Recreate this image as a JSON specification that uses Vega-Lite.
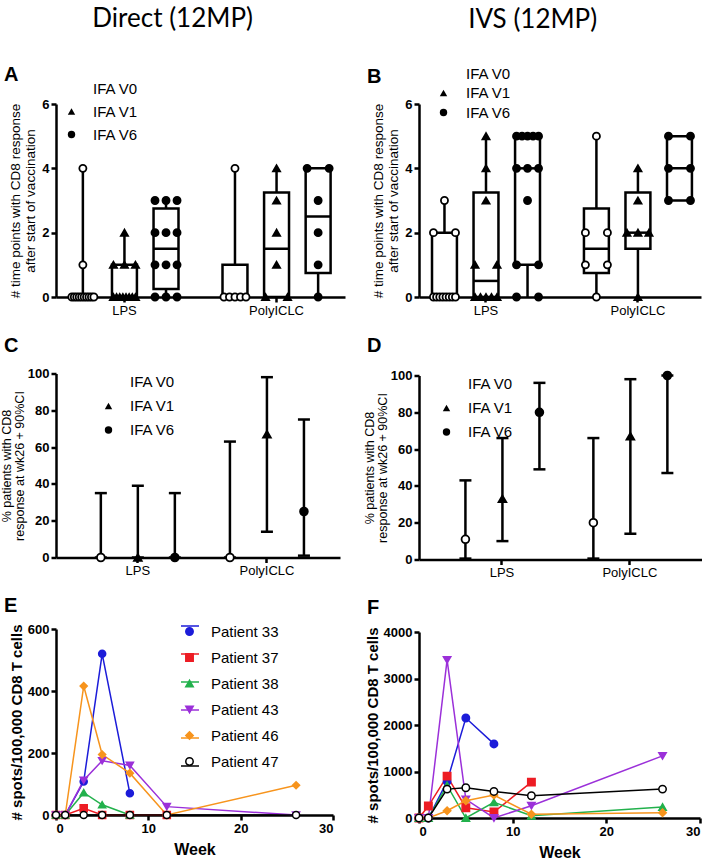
{
"$schema": "https://vega.github.io/schema/vega-lite/v6.json",
"padding": {"left": 0, "top": 6, "right": 0, "bottom": 0},
"background": "white",
"config": {
  "font": "Liberation Sans",
  "view": {"stroke": null},
  "axis": {"domain": true, "ticks": true, "domainColor": "black", "domainWidth": 2.5, "domainOpacity": 1, "tickColor": "black", "tickWidth": 2.5, "tickOpacity": 1, "tickSize": 5, "labelPadding": 2, "labelColor": "black", "titleColor": "black", "grid": false, "labelFont": "Liberation Sans", "titleFont": "Liberation Sans", "labelFontSize": 13, "titleFontWeight": "normal", "titleFontSize": 13},
  "axisX": {"domainColor": "black", "domainWidth": 2.5, "tickColor": "black", "tickWidth": 2.5},
  "axisY": {"domainColor": "black", "domainWidth": 2.5, "tickColor": "black", "tickWidth": 2.5},
  "title": {"anchor": "start", "frame": "group", "fontSize": 20, "font": "Liberation Sans", "fontWeight": "bold", "color": "black", "offset": 6, "dx": -52},
  "legend": {"labelFont": "Liberation Sans", "labelColor": "black"}
},
"resolve": {"scale": {"shape": "independent", "fill": "independent", "stroke": "independent", "color": "independent"}},
"datasets": {
  "box": [
    {"p":"A","g":"LPS","t":"IFA V0","min":0,"q1":0,"med":0,"q3":0,"max":4},
    {"p":"A","g":"LPS","t":"IFA V1","min":0,"q1":0,"med":0,"q3":1,"max":2},
    {"p":"A","g":"LPS","t":"IFA V6","min":0,"q1":0.25,"med":1.5,"q3":2.75,"max":3},
    {"p":"A","g":"PolyICLC","t":"IFA V0","min":0,"q1":0,"med":0,"q3":1,"max":4},
    {"p":"A","g":"PolyICLC","t":"IFA V1","min":0,"q1":0,"med":1.5,"q3":3.25,"max":4},
    {"p":"A","g":"PolyICLC","t":"IFA V6","min":0,"q1":0.75,"med":2.5,"q3":4,"max":4},
    {"p":"B","g":"LPS","t":"IFA V0","min":0,"q1":0,"med":0,"q3":2,"max":3},
    {"p":"B","g":"LPS","t":"IFA V1","min":0,"q1":0,"med":0.5,"q3":3.25,"max":5},
    {"p":"B","g":"LPS","t":"IFA V6","min":0,"q1":1,"med":4,"q3":5,"max":5},
    {"p":"B","g":"PolyICLC","t":"IFA V0","min":0,"q1":0.75,"med":1.5,"q3":2.75,"max":5},
    {"p":"B","g":"PolyICLC","t":"IFA V1","min":0,"q1":1.5,"med":2,"q3":3.25,"max":4},
    {"p":"B","g":"PolyICLC","t":"IFA V6","min":3,"q1":3,"med":4,"q3":5,"max":5}
  ],
  "pts": [
    {"p":"A","g":"LPS","t":"IFA V0","v":0},{"p":"A","g":"LPS","t":"IFA V0","v":0},{"p":"A","g":"LPS","t":"IFA V0","v":0},{"p":"A","g":"LPS","t":"IFA V0","v":0},{"p":"A","g":"LPS","t":"IFA V0","v":0},
    {"p":"A","g":"LPS","t":"IFA V0","v":0},{"p":"A","g":"LPS","t":"IFA V0","v":0},{"p":"A","g":"LPS","t":"IFA V0","v":0},{"p":"A","g":"LPS","t":"IFA V0","v":0},{"p":"A","g":"LPS","t":"IFA V0","v":0},
    {"p":"A","g":"LPS","t":"IFA V0","v":1},{"p":"A","g":"LPS","t":"IFA V0","v":4},
    {"p":"A","g":"LPS","t":"IFA V1","v":0},{"p":"A","g":"LPS","t":"IFA V1","v":0},{"p":"A","g":"LPS","t":"IFA V1","v":0},{"p":"A","g":"LPS","t":"IFA V1","v":0},
    {"p":"A","g":"LPS","t":"IFA V1","v":0},{"p":"A","g":"LPS","t":"IFA V1","v":0},{"p":"A","g":"LPS","t":"IFA V1","v":0},{"p":"A","g":"LPS","t":"IFA V1","v":0},
    {"p":"A","g":"LPS","t":"IFA V1","v":1},{"p":"A","g":"LPS","t":"IFA V1","v":1},{"p":"A","g":"LPS","t":"IFA V1","v":1},{"p":"A","g":"LPS","t":"IFA V1","v":2},
    {"p":"A","g":"LPS","t":"IFA V6","v":0},{"p":"A","g":"LPS","t":"IFA V6","v":0},{"p":"A","g":"LPS","t":"IFA V6","v":0},
    {"p":"A","g":"LPS","t":"IFA V6","v":1},{"p":"A","g":"LPS","t":"IFA V6","v":1},{"p":"A","g":"LPS","t":"IFA V6","v":1},
    {"p":"A","g":"LPS","t":"IFA V6","v":2},{"p":"A","g":"LPS","t":"IFA V6","v":2},{"p":"A","g":"LPS","t":"IFA V6","v":2},
    {"p":"A","g":"LPS","t":"IFA V6","v":3},{"p":"A","g":"LPS","t":"IFA V6","v":3},{"p":"A","g":"LPS","t":"IFA V6","v":3},
    {"p":"A","g":"PolyICLC","t":"IFA V0","v":0},{"p":"A","g":"PolyICLC","t":"IFA V0","v":0},{"p":"A","g":"PolyICLC","t":"IFA V0","v":0},{"p":"A","g":"PolyICLC","t":"IFA V0","v":0},{"p":"A","g":"PolyICLC","t":"IFA V0","v":0},{"p":"A","g":"PolyICLC","t":"IFA V0","v":4},
    {"p":"A","g":"PolyICLC","t":"IFA V1","v":0},{"p":"A","g":"PolyICLC","t":"IFA V1","v":0},{"p":"A","g":"PolyICLC","t":"IFA V1","v":1},{"p":"A","g":"PolyICLC","t":"IFA V1","v":2},{"p":"A","g":"PolyICLC","t":"IFA V1","v":3},{"p":"A","g":"PolyICLC","t":"IFA V1","v":4},
    {"p":"A","g":"PolyICLC","t":"IFA V6","v":0},{"p":"A","g":"PolyICLC","t":"IFA V6","v":1},{"p":"A","g":"PolyICLC","t":"IFA V6","v":2},{"p":"A","g":"PolyICLC","t":"IFA V6","v":3},{"p":"A","g":"PolyICLC","t":"IFA V6","v":4},{"p":"A","g":"PolyICLC","t":"IFA V6","v":4},
    {"p":"B","g":"LPS","t":"IFA V0","v":0},{"p":"B","g":"LPS","t":"IFA V0","v":0},{"p":"B","g":"LPS","t":"IFA V0","v":0},{"p":"B","g":"LPS","t":"IFA V0","v":0},
    {"p":"B","g":"LPS","t":"IFA V0","v":0},{"p":"B","g":"LPS","t":"IFA V0","v":0},{"p":"B","g":"LPS","t":"IFA V0","v":0},{"p":"B","g":"LPS","t":"IFA V0","v":0},
    {"p":"B","g":"LPS","t":"IFA V0","v":2},{"p":"B","g":"LPS","t":"IFA V0","v":2},{"p":"B","g":"LPS","t":"IFA V0","v":3},
    {"p":"B","g":"LPS","t":"IFA V1","v":0},{"p":"B","g":"LPS","t":"IFA V1","v":0},{"p":"B","g":"LPS","t":"IFA V1","v":0},{"p":"B","g":"LPS","t":"IFA V1","v":0},{"p":"B","g":"LPS","t":"IFA V1","v":0},
    {"p":"B","g":"LPS","t":"IFA V1","v":1},{"p":"B","g":"LPS","t":"IFA V1","v":1},{"p":"B","g":"LPS","t":"IFA V1","v":3},{"p":"B","g":"LPS","t":"IFA V1","v":4},{"p":"B","g":"LPS","t":"IFA V1","v":5},
    {"p":"B","g":"LPS","t":"IFA V6","v":0},{"p":"B","g":"LPS","t":"IFA V6","v":0},{"p":"B","g":"LPS","t":"IFA V6","v":1},{"p":"B","g":"LPS","t":"IFA V6","v":1},{"p":"B","g":"LPS","t":"IFA V6","v":3},
    {"p":"B","g":"LPS","t":"IFA V6","v":4},{"p":"B","g":"LPS","t":"IFA V6","v":4},{"p":"B","g":"LPS","t":"IFA V6","v":4},
    {"p":"B","g":"LPS","t":"IFA V6","v":5},{"p":"B","g":"LPS","t":"IFA V6","v":5},{"p":"B","g":"LPS","t":"IFA V6","v":5},{"p":"B","g":"LPS","t":"IFA V6","v":5},{"p":"B","g":"LPS","t":"IFA V6","v":5},
    {"p":"B","g":"PolyICLC","t":"IFA V0","v":0},{"p":"B","g":"PolyICLC","t":"IFA V0","v":1},{"p":"B","g":"PolyICLC","t":"IFA V0","v":1},{"p":"B","g":"PolyICLC","t":"IFA V0","v":2},{"p":"B","g":"PolyICLC","t":"IFA V0","v":2},{"p":"B","g":"PolyICLC","t":"IFA V0","v":5},
    {"p":"B","g":"PolyICLC","t":"IFA V1","v":0},{"p":"B","g":"PolyICLC","t":"IFA V1","v":2},{"p":"B","g":"PolyICLC","t":"IFA V1","v":2},{"p":"B","g":"PolyICLC","t":"IFA V1","v":2},{"p":"B","g":"PolyICLC","t":"IFA V1","v":3},{"p":"B","g":"PolyICLC","t":"IFA V1","v":4},
    {"p":"B","g":"PolyICLC","t":"IFA V6","v":3},{"p":"B","g":"PolyICLC","t":"IFA V6","v":3},{"p":"B","g":"PolyICLC","t":"IFA V6","v":4},{"p":"B","g":"PolyICLC","t":"IFA V6","v":4},{"p":"B","g":"PolyICLC","t":"IFA V6","v":5},{"p":"B","g":"PolyICLC","t":"IFA V6","v":5}
  ],
  "ci": [
    {"p":"C","g":"LPS","t":"IFA V0","pct":0,"lo":0,"hi":35},
    {"p":"C","g":"LPS","t":"IFA V1","pct":0,"lo":0,"hi":39},
    {"p":"C","g":"LPS","t":"IFA V6","pct":0,"lo":0,"hi":35},
    {"p":"C","g":"PolyICLC","t":"IFA V0","pct":0,"lo":0,"hi":63},
    {"p":"C","g":"PolyICLC","t":"IFA V1","pct":67,"lo":14,"hi":98},
    {"p":"C","g":"PolyICLC","t":"IFA V6","pct":25,"lo":1,"hi":75},
    {"p":"D","g":"LPS","t":"IFA V0","pct":11,"lo":0.5,"hi":43},
    {"p":"D","g":"LPS","t":"IFA V1","pct":33,"lo":10,"hi":66},
    {"p":"D","g":"LPS","t":"IFA V6","pct":80,"lo":49,"hi":96},
    {"p":"D","g":"PolyICLC","t":"IFA V0","pct":20,"lo":0.5,"hi":66},
    {"p":"D","g":"PolyICLC","t":"IFA V1","pct":67,"lo":14,"hi":98},
    {"p":"D","g":"PolyICLC","t":"IFA V6","pct":100,"lo":47,"hi":100}
  ],
  "elis": [
    {"p":"E","pt":"Patient 33","w":0,"s":0},{"p":"E","pt":"Patient 33","w":1,"s":0},{"p":"E","pt":"Patient 33","w":3,"s":108},{"p":"E","pt":"Patient 33","w":5,"s":520},{"p":"E","pt":"Patient 33","w":8,"s":70},
    {"p":"E","pt":"Patient 37","w":0,"s":0},{"p":"E","pt":"Patient 37","w":1,"s":0},{"p":"E","pt":"Patient 37","w":3,"s":22},{"p":"E","pt":"Patient 37","w":5,"s":0},{"p":"E","pt":"Patient 37","w":8,"s":0},{"p":"E","pt":"Patient 37","w":12,"s":0},
    {"p":"E","pt":"Patient 38","w":0,"s":0},{"p":"E","pt":"Patient 38","w":1,"s":0},{"p":"E","pt":"Patient 38","w":3,"s":72},{"p":"E","pt":"Patient 38","w":5,"s":33},{"p":"E","pt":"Patient 38","w":8,"s":0},
    {"p":"E","pt":"Patient 43","w":0,"s":0},{"p":"E","pt":"Patient 43","w":1,"s":0},{"p":"E","pt":"Patient 43","w":3,"s":112},{"p":"E","pt":"Patient 43","w":5,"s":175},{"p":"E","pt":"Patient 43","w":8,"s":160},{"p":"E","pt":"Patient 43","w":12,"s":27},{"p":"E","pt":"Patient 43","w":26,"s":0},
    {"p":"E","pt":"Patient 46","w":0,"s":0},{"p":"E","pt":"Patient 46","w":1,"s":0},{"p":"E","pt":"Patient 46","w":3,"s":416},{"p":"E","pt":"Patient 46","w":5,"s":195},{"p":"E","pt":"Patient 46","w":8,"s":135},{"p":"E","pt":"Patient 46","w":12,"s":0},{"p":"E","pt":"Patient 46","w":26,"s":96},
    {"p":"E","pt":"Patient 47","w":0,"s":0},{"p":"E","pt":"Patient 47","w":1,"s":0},{"p":"E","pt":"Patient 47","w":3,"s":0},{"p":"E","pt":"Patient 47","w":5,"s":0},{"p":"E","pt":"Patient 47","w":8,"s":0},{"p":"E","pt":"Patient 47","w":12,"s":0},{"p":"E","pt":"Patient 47","w":26,"s":0},
    {"p":"F","pt":"Patient 33","w":0,"s":0},{"p":"F","pt":"Patient 33","w":1,"s":0},{"p":"F","pt":"Patient 33","w":3,"s":786},{"p":"F","pt":"Patient 33","w":5,"s":2150},{"p":"F","pt":"Patient 33","w":8,"s":1593},
    {"p":"F","pt":"Patient 37","w":0,"s":0},{"p":"F","pt":"Patient 37","w":1,"s":257},{"p":"F","pt":"Patient 37","w":3,"s":900},{"p":"F","pt":"Patient 37","w":5,"s":221},{"p":"F","pt":"Patient 37","w":8,"s":129},{"p":"F","pt":"Patient 37","w":12,"s":771},
    {"p":"F","pt":"Patient 38","w":0,"s":0},{"p":"F","pt":"Patient 38","w":1,"s":0},{"p":"F","pt":"Patient 38","w":3,"s":700},{"p":"F","pt":"Patient 38","w":5,"s":0},{"p":"F","pt":"Patient 38","w":8,"s":336},{"p":"F","pt":"Patient 38","w":12,"s":50},{"p":"F","pt":"Patient 38","w":26,"s":236},
    {"p":"F","pt":"Patient 43","w":0,"s":0},{"p":"F","pt":"Patient 43","w":1,"s":0},{"p":"F","pt":"Patient 43","w":3,"s":3400},{"p":"F","pt":"Patient 43","w":5,"s":400},{"p":"F","pt":"Patient 43","w":8,"s":0},{"p":"F","pt":"Patient 43","w":12,"s":264},{"p":"F","pt":"Patient 43","w":26,"s":1336},
    {"p":"F","pt":"Patient 46","w":0,"s":0},{"p":"F","pt":"Patient 46","w":1,"s":0},{"p":"F","pt":"Patient 46","w":3,"s":157},{"p":"F","pt":"Patient 46","w":5,"s":370},{"p":"F","pt":"Patient 46","w":8,"s":493},{"p":"F","pt":"Patient 46","w":12,"s":80},{"p":"F","pt":"Patient 46","w":26,"s":112},
    {"p":"F","pt":"Patient 47","w":0,"s":0},{"p":"F","pt":"Patient 47","w":1,"s":0},{"p":"F","pt":"Patient 47","w":3,"s":621},{"p":"F","pt":"Patient 47","w":5,"s":650},{"p":"F","pt":"Patient 47","w":8,"s":571},{"p":"F","pt":"Patient 47","w":12,"s":479},{"p":"F","pt":"Patient 47","w":26,"s":621}
  ]
},
"hconcat": [
 {
  "title": {"text": "Direct (12MP)", "anchor": "middle", "frame": "bounds", "dx": 0, "fontSize": 26, "font": "Lato", "fontWeight": "normal", "offset": 33},
  "spacing": 18.5,
  "resolve": {"scale": {"shape": "independent", "fill": "independent", "stroke": "independent", "color": "independent"}},
  "vconcat": [
   {
    "width": 289, "height": 193,
    "title": {"text": "A", "offset": -4},
    "resolve": {"scale": {"xOffset": "independent"}},
    "encoding": {
      "x": {"field": "g", "type": "nominal", "sort": ["LPS","PolyICLC"], "scale": {"paddingInner": 0.18, "paddingOuter": 0.04}, "axis": {"title": null, "labelAngle": 0, "labelFontSize": 13, "domainColor": "black", "domainWidth": 2.5}}
    },
    "layer": [
     {"data": {"name": "box"}, "transform": [{"filter": "datum.p=='A'"}, {"calculate": "indexof(['IFA V0','IFA V1','IFA V6'],datum.t)-1", "as": "off"}],
      "mark": {"type": "rule", "strokeWidth": 2.5, "color": "black"},
      "encoding": {
        "xOffset": {"field": "off", "type": "quantitative", "scale": {"domain": [-1.5, 1.5], "nice": false, "zero": false}},
        "y": {"field": "min", "type": "quantitative", "scale": {"domain": [0, 6]}, "axis": {"values": [0,2,4,6], "title": ["# time points with CD8 response", "after start of vaccination"], "titleFontSize": 13.5, "labelFontWeight": "bold", "titleLineHeight": 15, "titlePadding": 4, "domainColor": "black", "domainWidth": 2.5}},
        "y2": {"field": "max"}}},
     {"data": {"name": "box"}, "transform": [{"filter": "datum.p=='A'"}],
      "mark": {"type": "bar", "fill": "white", "stroke": "black", "strokeWidth": 2.5},
      "encoding": {
        "xOffset": {"field": "t", "type": "nominal", "sort": ["IFA V0","IFA V1","IFA V6"], "scale": {"paddingInner": 0.4, "paddingOuter": 0.2}},
        "y": {"field": "q1", "type": "quantitative", "scale": {"domain": [0, 6]}, "axis": {"values": [0,2,4,6], "title": ["# time points with CD8 response", "after start of vaccination"], "titleFontSize": 13.5, "labelFontWeight": "bold", "titleLineHeight": 15, "titlePadding": 4, "domainColor": "black", "domainWidth": 2.5}},
        "y2": {"field": "q3"}}},
     {"data": {"name": "box"}, "transform": [{"filter": "datum.p=='A'"}, {"calculate": "indexof(['IFA V0','IFA V1','IFA V6'],datum.t)-1", "as": "off"}],
      "mark": {"type": "tick", "orient": "horizontal", "color": "black", "thickness": 2.5, "size": 25, "opacity": 1},
      "encoding": {
        "xOffset": {"field": "off", "type": "quantitative", "scale": {"domain": [-1.5, 1.5], "nice": false, "zero": false}},
        "y": {"field": "med", "type": "quantitative", "scale": {"domain": [0, 6]}, "axis": {"values": [0,2,4,6], "title": ["# time points with CD8 response", "after start of vaccination"], "titleFontSize": 13.5, "labelFontWeight": "bold", "titleLineHeight": 15, "titlePadding": 4, "domainColor": "black", "domainWidth": 2.5}}}},
     {"data": {"name": "pts"}, "transform": [{"filter": "datum.p=='A'"},
        {"window": [{"op": "row_number", "as": "r"}], "groupby": ["g","t","v"]},
        {"joinaggregate": [{"op": "count", "as": "n"}], "groupby": ["g","t","v"]},
        {"calculate": "indexof(['IFA V0','IFA V1','IFA V6'],datum.t)-1 + (datum.n>1 ? ((datum.r-1)/(datum.n-1)-0.5)*0.53 : 0)", "as": "off"}],
      "mark": {"type": "point", "filled": true, "stroke": "black", "strokeWidth": 1.8, "size": 50, "opacity": 1},
      "encoding": {
        "xOffset": {"field": "off", "type": "quantitative", "scale": {"domain": [-1.5, 1.5], "nice": false, "zero": false}},
        "y": {"field": "v", "type": "quantitative", "scale": {"domain": [0, 6]}, "axis": {"values": [0,2,4,6], "title": ["# time points with CD8 response", "after start of vaccination"], "titleFontSize": 13.5, "labelFontWeight": "bold", "titleLineHeight": 15, "titlePadding": 4, "domainColor": "black", "domainWidth": 2.5}},
        "shape": {"field": "t", "type": "nominal", "scale": {"domain": ["IFA V0","IFA V1","IFA V6"], "range": ["circle","triangle-up","circle"]}, "legend": {"title": null, "orient": "none", "legendX": 8, "legendY": -23, "labelFontSize": 15, "rowPadding": 7, "labelOffset": 14, "symbolSize": 55, "padding": 0, "symbolStrokeWidth": 1.8, "symbolStrokeColor": "black"}},
        "fill": {"field": "t", "type": "nominal", "scale": {"domain": ["IFA V0","IFA V1","IFA V6"], "range": ["white","black","black"]}, "legend": {"title": null, "orient": "none", "legendX": 8, "legendY": -23, "labelFontSize": 15, "rowPadding": 7, "labelOffset": 14, "symbolSize": 55, "padding": 0, "symbolStrokeWidth": 1.8, "symbolStrokeColor": "black"}}}}
    ]
   },
   {
    "width": 284, "height": 184,
    "title": {"text": "C", "offset": 12},
    "data": {"name": "ci"},
    "transform": [{"filter": "datum.p=='C'"}, {"calculate": "indexof(['IFA V0','IFA V1','IFA V6'],datum.t)-1", "as": "off"}],
    "encoding": {
      "x": {"field": "g", "type": "nominal", "sort": ["LPS","PolyICLC"], "scale": {"paddingInner": 0.14, "paddingOuter": 0.17, "align": 0.6}, "axis": {"title": null, "labelAngle": 0, "labelFontSize": 13, "domainColor": "black", "domainWidth": 2.5}},
      "xOffset": {"field": "off", "type": "quantitative", "scale": {"domain": [-1.5, 1.5], "nice": false, "zero": false}}
    },
    "layer": [
     {"mark": {"type": "rule", "strokeWidth": 2.5, "color": "black"},
      "encoding": {"y": {"field": "lo", "type": "quantitative", "scale": {"domain": [0, 100]}, "axis": {"values": [0,20,40,60,80,100], "title": ["% patients with CD8", "response at wk26 + 90%CI"], "titleFontSize": 12.5, "labelFontWeight": "bold", "titleLineHeight": 13, "titlePadding": 1, "domainColor": "black", "domainWidth": 2.5}}, "y2": {"field": "hi"}}},
     {"mark": {"type": "tick", "orient": "horizontal", "color": "black", "thickness": 2.5, "size": 12, "opacity": 1},
      "encoding": {"y": {"field": "hi", "type": "quantitative", "scale": {"domain": [0, 100]}, "axis": {"values": [0,20,40,60,80,100], "title": ["% patients with CD8", "response at wk26 + 90%CI"], "titleFontSize": 12.5, "labelFontWeight": "bold", "titleLineHeight": 13, "titlePadding": 1, "domainColor": "black", "domainWidth": 2.5}}}},
     {"mark": {"type": "tick", "orient": "horizontal", "color": "black", "thickness": 2.5, "size": 12, "opacity": 1},
      "encoding": {"y": {"field": "lo", "type": "quantitative", "scale": {"domain": [0, 100]}, "axis": {"values": [0,20,40,60,80,100], "title": ["% patients with CD8", "response at wk26 + 90%CI"], "titleFontSize": 12.5, "labelFontWeight": "bold", "titleLineHeight": 13, "titlePadding": 1, "domainColor": "black", "domainWidth": 2.5}}}},
     {"mark": {"type": "point", "filled": true, "stroke": "black", "strokeWidth": 1.8, "size": 60, "opacity": 1},
      "encoding": {
        "y": {"field": "pct", "type": "quantitative", "scale": {"domain": [0, 100]}, "axis": {"values": [0,20,40,60,80,100], "title": ["% patients with CD8", "response at wk26 + 90%CI"], "titleFontSize": 12.5, "labelFontWeight": "bold", "titleLineHeight": 13, "titlePadding": 1, "domainColor": "black", "domainWidth": 2.5}},
        "shape": {"field": "t", "type": "nominal", "scale": {"domain": ["IFA V0","IFA V1","IFA V6"], "range": ["circle","triangle-up","circle"]}, "legend": {"title": null, "orient": "none", "legendX": 45, "legendY": 1, "labelFontSize": 15, "rowPadding": 8, "labelOffset": 14, "symbolSize": 55, "padding": 0, "symbolStrokeWidth": 1.8, "symbolStrokeColor": "black"}},
        "fill": {"field": "t", "type": "nominal", "scale": {"domain": ["IFA V0","IFA V1","IFA V6"], "range": ["white","black","black"]}, "legend": {"title": null, "orient": "none", "legendX": 45, "legendY": 1, "labelFontSize": 15, "rowPadding": 8, "labelOffset": 14, "symbolSize": 55, "padding": 0, "symbolStrokeWidth": 1.8, "symbolStrokeColor": "black"}}}}
    ]
   },
   {
    "width": 277, "height": 186,
    "title": {"text": "E", "offset": 0},
    "data": {"name": "elis"},
    "transform": [{"filter": "datum.p=='E'"}],
    "encoding": {
      "x": {"field": "w", "type": "quantitative", "scale": {"domain": [0, 30], "nice": false}, "axis": {"values": [0,10,20,30], "title": "Week", "titleFontSize": 16, "titleFontWeight": "bold", "labelFontWeight": "bold", "labelFontSize": 13, "titlePadding": 6, "domainColor": "black", "domainWidth": 2.5}},
      "y": {"field": "s", "type": "quantitative", "scale": {"domain": [0, 600], "nice": false}, "axis": {"values": [0,200,400,600], "title": "# spots/100,000 CD8 T cells", "titleFontSize": 15, "titleFontWeight": "bold", "labelFontWeight": "bold", "labelFontSize": 13, "titlePadding": 3, "domainColor": "black", "domainWidth": 2.5}}
    },
    "layer": [
     {"transform": [{"calculate": "datum.pt + ' '", "as": "lk"}],
      "mark": {"type": "line", "strokeWidth": 1.5},
      "encoding": {"color": {"field": "lk", "type": "nominal", "scale": {"domain": ["Patient 33 ","Patient 37 ","Patient 38 ","Patient 43 ","Patient 46 ","Patient 47 "], "range": ["#1c1cd9","#ed1c24","#22b14c","#9b30d9","#f7941d","#000000"]}, "legend": {"title": null, "orient": "none", "legendX": 124, "legendY": -13, "labelFontSize": 15, "rowPadding": 10, "labelOpacity": 0, "labelOffset": 14, "symbolType": "stroke", "symbolSize": 324, "symbolStrokeWidth": 1.5, "padding": 0}}}},
     {"mark": {"type": "point", "filled": true, "strokeWidth": 1.5, "size": 50, "opacity": 1},
      "encoding": {
        "shape": {"field": "pt", "type": "nominal", "scale": {"domain": ["Patient 33","Patient 37","Patient 38","Patient 43","Patient 46","Patient 47"], "range": ["circle","square","triangle-up","triangle-down","diamond","circle"]}, "legend": {"title": null, "orient": "none", "legendX": 126, "legendY": -5, "labelFontSize": 15, "rowPadding": 10, "labelOffset": 14, "symbolSize": 55, "padding": 0, "symbolStrokeWidth": 1.5}},
        "fill": {"field": "pt", "type": "nominal", "scale": {"domain": ["Patient 33","Patient 37","Patient 38","Patient 43","Patient 46","Patient 47"], "range": ["#1c1cd9","#ed1c24","#22b14c","#9b30d9","#f7941d","#ffffff"]}, "legend": {"title": null, "orient": "none", "legendX": 126, "legendY": -5, "labelFontSize": 15, "rowPadding": 10, "labelOffset": 14, "symbolSize": 55, "padding": 0, "symbolStrokeWidth": 1.5}},
        "stroke": {"field": "pt", "type": "nominal", "scale": {"domain": ["Patient 33","Patient 37","Patient 38","Patient 43","Patient 46","Patient 47"], "range": ["#1c1cd9","#ed1c24","#22b14c","#9b30d9","#f7941d","#000000"]}, "legend": {"title": null, "orient": "none", "legendX": 126, "legendY": -5, "labelFontSize": 15, "rowPadding": 10, "labelOffset": 14, "symbolSize": 55, "padding": 0, "symbolStrokeWidth": 1.5}}}}
    ]
   }
  ]
 },
 {
  "title": {"text": "IVS (12MP)", "anchor": "middle", "frame": "bounds", "dx": 0, "fontSize": 26, "font": "Lato", "fontWeight": "normal", "offset": 33},
  "spacing": 18.5,
  "resolve": {"scale": {"shape": "independent", "fill": "independent", "stroke": "independent", "color": "independent"}},
  "vconcat": [
   {
    "width": 282, "height": 193,
    "title": {"text": "B", "offset": -21},
    "resolve": {"scale": {"xOffset": "independent"}},
    "encoding": {
      "x": {"field": "g", "type": "nominal", "sort": ["LPS","PolyICLC"], "scale": {"paddingInner": 0.18, "paddingOuter": 0.018, "align": 0.86}, "axis": {"title": null, "labelAngle": 0, "labelFontSize": 13, "domainColor": "black", "domainWidth": 2.5}}
    },
    "layer": [
     {"data": {"name": "box"}, "transform": [{"filter": "datum.p=='B'"}, {"calculate": "indexof(['IFA V0','IFA V1','IFA V6'],datum.t)-1", "as": "off"}],
      "mark": {"type": "rule", "strokeWidth": 2.5, "color": "black"},
      "encoding": {
        "xOffset": {"field": "off", "type": "quantitative", "scale": {"domain": [-1.5, 1.5], "nice": false, "zero": false}},
        "y": {"field": "min", "type": "quantitative", "scale": {"domain": [0, 6]}, "axis": {"values": [0,2,4,6], "title": ["# time points with CD8 response", "after start of vaccination"], "titleFontSize": 13.5, "labelFontWeight": "bold", "titleLineHeight": 15, "titlePadding": 4, "domainColor": "black", "domainWidth": 2.5}},
        "y2": {"field": "max"}}},
     {"data": {"name": "box"}, "transform": [{"filter": "datum.p=='B'"}],
      "mark": {"type": "bar", "fill": "white", "stroke": "black", "strokeWidth": 2.5},
      "encoding": {
        "xOffset": {"field": "t", "type": "nominal", "sort": ["IFA V0","IFA V1","IFA V6"], "scale": {"paddingInner": 0.4, "paddingOuter": 0.2}},
        "y": {"field": "q1", "type": "quantitative", "scale": {"domain": [0, 6]}, "axis": {"values": [0,2,4,6], "title": ["# time points with CD8 response", "after start of vaccination"], "titleFontSize": 13.5, "labelFontWeight": "bold", "titleLineHeight": 15, "titlePadding": 4, "domainColor": "black", "domainWidth": 2.5}},
        "y2": {"field": "q3"}}},
     {"data": {"name": "box"}, "transform": [{"filter": "datum.p=='B'"}, {"calculate": "indexof(['IFA V0','IFA V1','IFA V6'],datum.t)-1", "as": "off"}],
      "mark": {"type": "tick", "orient": "horizontal", "color": "black", "thickness": 2.5, "size": 25, "opacity": 1},
      "encoding": {
        "xOffset": {"field": "off", "type": "quantitative", "scale": {"domain": [-1.5, 1.5], "nice": false, "zero": false}},
        "y": {"field": "med", "type": "quantitative", "scale": {"domain": [0, 6]}, "axis": {"values": [0,2,4,6], "title": ["# time points with CD8 response", "after start of vaccination"], "titleFontSize": 13.5, "labelFontWeight": "bold", "titleLineHeight": 15, "titlePadding": 4, "domainColor": "black", "domainWidth": 2.5}}}},
     {"data": {"name": "pts"}, "transform": [{"filter": "datum.p=='B'"},
        {"window": [{"op": "row_number", "as": "r"}], "groupby": ["g","t","v"]},
        {"joinaggregate": [{"op": "count", "as": "n"}], "groupby": ["g","t","v"]},
        {"calculate": "indexof(['IFA V0','IFA V1','IFA V6'],datum.t)-1 + (datum.n>1 ? ((datum.r-1)/(datum.n-1)-0.5)*0.53 : 0)", "as": "off"}],
      "mark": {"type": "point", "filled": true, "stroke": "black", "strokeWidth": 1.8, "size": 50, "opacity": 1},
      "encoding": {
        "xOffset": {"field": "off", "type": "quantitative", "scale": {"domain": [-1.5, 1.5], "nice": false, "zero": false}},
        "y": {"field": "v", "type": "quantitative", "scale": {"domain": [0, 6]}, "axis": {"values": [0,2,4,6], "title": ["# time points with CD8 response", "after start of vaccination"], "titleFontSize": 13.5, "labelFontWeight": "bold", "titleLineHeight": 15, "titlePadding": 4, "domainColor": "black", "domainWidth": 2.5}},
        "shape": {"field": "t", "type": "nominal", "scale": {"domain": ["IFA V0","IFA V1","IFA V6"], "range": ["circle","triangle-up","circle"]}, "legend": {"title": null, "orient": "none", "legendX": 17, "legendY": -38, "labelFontSize": 15, "rowPadding": 3.5, "labelOffset": 15, "symbolSize": 55, "padding": 0, "symbolStrokeWidth": 1.8, "symbolStrokeColor": "black"}},
        "fill": {"field": "t", "type": "nominal", "scale": {"domain": ["IFA V0","IFA V1","IFA V6"], "range": ["white","black","black"]}, "legend": {"title": null, "orient": "none", "legendX": 17, "legendY": -38, "labelFontSize": 15, "rowPadding": 3.5, "labelOffset": 15, "symbolSize": 55, "padding": 0, "symbolStrokeWidth": 1.8, "symbolStrokeColor": "black"}}}}
    ]
   },
   {
    "width": 283, "height": 184,
    "title": {"text": "D", "offset": 12},
    "data": {"name": "ci"},
    "transform": [{"filter": "datum.p=='D'"}, {"calculate": "indexof(['IFA V0','IFA V1','IFA V6'],datum.t)-1", "as": "off"}],
    "encoding": {
      "x": {"field": "g", "type": "nominal", "sort": ["LPS","PolyICLC"], "scale": {"paddingInner": 0.14, "paddingOuter": 0.176, "align": 0.62}, "axis": {"title": null, "labelAngle": 0, "labelFontSize": 13, "domainColor": "black", "domainWidth": 2.5}},
      "xOffset": {"field": "off", "type": "quantitative", "scale": {"domain": [-1.5, 1.5], "nice": false, "zero": false}}
    },
    "layer": [
     {"mark": {"type": "rule", "strokeWidth": 2.5, "color": "black"},
      "encoding": {"y": {"field": "lo", "type": "quantitative", "scale": {"domain": [0, 100]}, "axis": {"values": [0,20,40,60,80,100], "title": ["% patients with CD8", "response at wk26 + 90%CI"], "titleFontSize": 12.5, "labelFontWeight": "bold", "titleLineHeight": 13, "titlePadding": 1, "domainColor": "black", "domainWidth": 2.5}}, "y2": {"field": "hi"}}},
     {"mark": {"type": "tick", "orient": "horizontal", "color": "black", "thickness": 2.5, "size": 12, "opacity": 1},
      "encoding": {"y": {"field": "hi", "type": "quantitative", "scale": {"domain": [0, 100]}, "axis": {"values": [0,20,40,60,80,100], "title": ["% patients with CD8", "response at wk26 + 90%CI"], "titleFontSize": 12.5, "labelFontWeight": "bold", "titleLineHeight": 13, "titlePadding": 1, "domainColor": "black", "domainWidth": 2.5}}}},
     {"mark": {"type": "tick", "orient": "horizontal", "color": "black", "thickness": 2.5, "size": 12, "opacity": 1},
      "encoding": {"y": {"field": "lo", "type": "quantitative", "scale": {"domain": [0, 100]}, "axis": {"values": [0,20,40,60,80,100], "title": ["% patients with CD8", "response at wk26 + 90%CI"], "titleFontSize": 12.5, "labelFontWeight": "bold", "titleLineHeight": 13, "titlePadding": 1, "domainColor": "black", "domainWidth": 2.5}}}},
     {"mark": {"type": "point", "filled": true, "stroke": "black", "strokeWidth": 1.8, "size": 60, "opacity": 1},
      "encoding": {
        "y": {"field": "pct", "type": "quantitative", "scale": {"domain": [0, 100]}, "axis": {"values": [0,20,40,60,80,100], "title": ["% patients with CD8", "response at wk26 + 90%CI"], "titleFontSize": 12.5, "labelFontWeight": "bold", "titleLineHeight": 13, "titlePadding": 1, "domainColor": "black", "domainWidth": 2.5}},
        "shape": {"field": "t", "type": "nominal", "scale": {"domain": ["IFA V0","IFA V1","IFA V6"], "range": ["circle","triangle-up","circle"]}, "legend": {"title": null, "orient": "none", "legendX": 20, "legendY": 1, "labelFontSize": 15, "rowPadding": 8, "labelOffset": 14, "symbolSize": 55, "padding": 0, "symbolStrokeWidth": 1.8, "symbolStrokeColor": "black"}},
        "fill": {"field": "t", "type": "nominal", "scale": {"domain": ["IFA V0","IFA V1","IFA V6"], "range": ["white","black","black"]}, "legend": {"title": null, "orient": "none", "legendX": 20, "legendY": 1, "labelFontSize": 15, "rowPadding": 8, "labelOffset": 14, "symbolSize": 55, "padding": 0, "symbolStrokeWidth": 1.8, "symbolStrokeColor": "black"}}}}
    ]
   },
   {
    "width": 281, "height": 186,
    "title": {"text": "F", "offset": 8},
    "data": {"name": "elis"},
    "transform": [{"filter": "datum.p=='F'"}],
    "encoding": {
      "x": {"field": "w", "type": "quantitative", "scale": {"domain": [0, 30], "nice": false}, "axis": {"values": [0,10,20,30], "title": "Week", "titleFontSize": 16, "titleFontWeight": "bold", "labelFontWeight": "bold", "labelFontSize": 13, "titlePadding": 6, "domainColor": "black", "domainWidth": 2.5}},
      "y": {"field": "s", "type": "quantitative", "scale": {"domain": [0, 4000], "nice": false}, "axis": {"values": [0,1000,2000,3000,4000], "format": "d", "title": "# spots/100,000 CD8 T cells", "titleFontSize": 15, "titleFontWeight": "bold", "labelFontWeight": "bold", "labelFontSize": 13, "titlePadding": 3, "domainColor": "black", "domainWidth": 2.5}}
    },
    "layer": [
     {"mark": {"type": "line", "strokeWidth": 1.5},
      "encoding": {"stroke": {"field": "pt", "type": "nominal", "scale": {"domain": ["Patient 33","Patient 37","Patient 38","Patient 43","Patient 46","Patient 47"], "range": ["#1c1cd9","#ed1c24","#22b14c","#9b30d9","#f7941d","#000000"]}, "legend": null}}},
     {"mark": {"type": "point", "filled": true, "strokeWidth": 1.5, "size": 55, "opacity": 1},
      "encoding": {
        "shape": {"field": "pt", "type": "nominal", "scale": {"domain": ["Patient 33","Patient 37","Patient 38","Patient 43","Patient 46","Patient 47"], "range": ["circle","square","triangle-up","triangle-down","diamond","circle"]}, "legend": null},
        "fill": {"field": "pt", "type": "nominal", "scale": {"domain": ["Patient 33","Patient 37","Patient 38","Patient 43","Patient 46","Patient 47"], "range": ["#1c1cd9","#ed1c24","#22b14c","#9b30d9","#f7941d","#ffffff"]}, "legend": null},
        "stroke": {"field": "pt", "type": "nominal", "legend": null}}}
    ]
   }
  ]
 }
],
"spacing": 18
}
